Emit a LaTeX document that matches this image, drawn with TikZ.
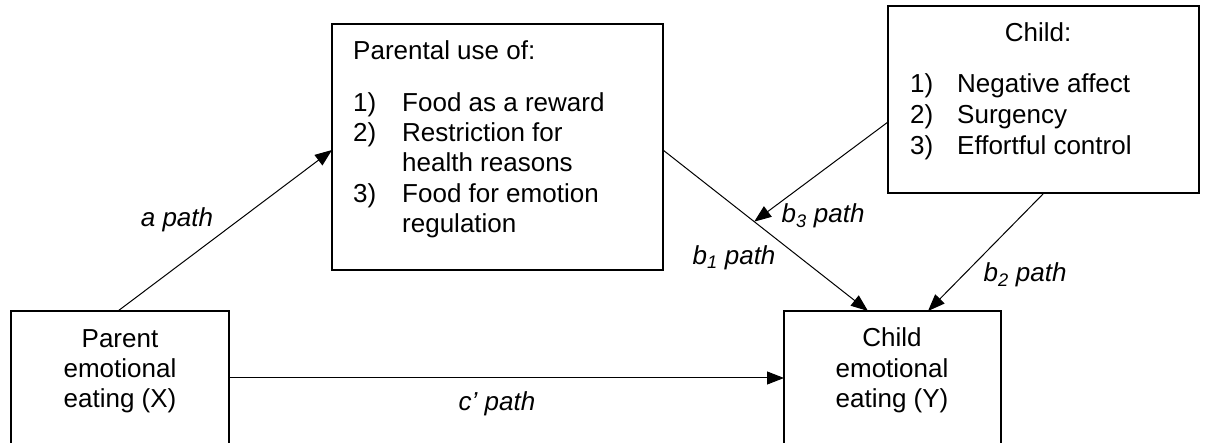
\documentclass[tikz,border=0pt]{standalone}
\usepackage{fontspec}
\setmainfont{Liberation Sans}
\usetikzlibrary{arrows.meta}
\begin{document}
\begin{tikzpicture}[x=1pt,y=-1pt,
  box/.style={draw,line width=2pt,rectangle,anchor=north west,inner sep=0pt,outer sep=0pt},
  txt/.style={inner sep=0pt,anchor=base,font=\fontsize{26}{30}\selectfont},
  txtl/.style={txt,anchor=base west},
  lbl/.style={txt,font=\fontsize{26}{30}\selectfont\itshape},
  arr/.style={line width=1pt,-{Triangle[length=17pt,width=13pt]}}]
\useasboundingbox (0,0) rectangle (1205,443);
\clip (0,0) rectangle (1205,443);

% boxes
\node[box,minimum width=218pt,minimum height=160pt] (X) at (11,311) {};
\node[box,minimum width=331pt,minimum height=246pt] (P) at (332,24) {};
\node[box,minimum width=311pt,minimum height=187pt] (C) at (888,6) {};
\node[box,minimum width=217pt,minimum height=160pt] (Y) at (784,311) {};

% box texts
\node[txt] (x1) at (120,348) {Parent};
\node[txt] (x2) at (120,378) {emotional};
\node[txt] (x3) at (120,408) {eating (X)};

\node[txt] (y1) at (892,347) {Child};
\node[txt] (y2) at (892,378) {emotional};
\node[txt] (y3) at (892,408) {eating (Y)};

\node[txtl] (p0) at (353,60) {Parental use of:};
\node[txtl] (pn1) at (353,112) {1)};
\node[txtl] (pt1) at (402,112) {Food as a reward};
\node[txtl] (pn2) at (353,142) {2)};
\node[txtl] (pt2) at (402,142) {Restriction for};
\node[txtl] (pt2b) at (402,172) {health reasons};
\node[txtl] (pn3) at (353,203) {3)};
\node[txtl] (pt3) at (402,203) {Food for emotion};
\node[txtl] (pt3b) at (402,233) {regulation};

\node[txt] (c0) at (1038,42) {Child:};
\node[txtl] (cn1) at (910,93) {1)};
\node[txtl] (ct1) at (957,93) {Negative affect};
\node[txtl] (cn2) at (910,124) {2)};
\node[txtl] (ct2) at (957,124) {Surgency};
\node[txtl] (cn3) at (910,155) {3)};
\node[txtl] (ct3) at (957,155) {Effortful control};

% paths
\draw[arr] (X.north -| 118,0) -- (P.west |- 0,150);
\draw[arr] (X.east |- 0,378) -- (Y.west |- 0,378);
\draw[arr] (P.east |- 0,150) -- coordinate[pos=0.445] (m) (Y.north -| 868,0);
\draw[arr] (C.west |- 0,122) -- (m);
\draw[arr] (C.south -| 1044,0) -- (Y.north -| 928,0);

% path labels
\node[lbl] (la) at (177,227) {a path};
\node[lbl] (lc) at (497,410) {c’ path};
\node[lbl] (lb1) at (734,265) {b\textsubscript{1} path};
\node[lbl] (lb3) at (823,223) {b\textsubscript{3} path};
\node[lbl] (lb2) at (1025,282) {b\textsubscript{2} path};
\end{tikzpicture}
\end{document}
